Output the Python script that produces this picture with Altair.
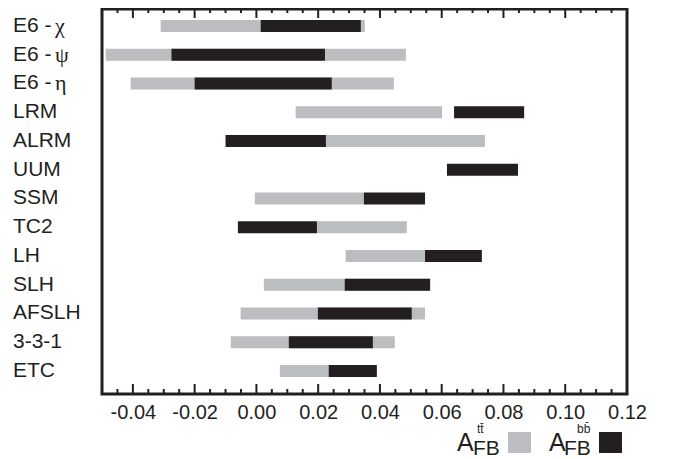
import altair as alt
import pandas as pd

models = ["E6 - χ", "E6 - ψ", "E6 - η", "LRM", "ALRM", "UUM", "SSM",
          "TC2", "LH", "SLH", "AFSLH", "3-3-1", "ETC"]
# label pieces: sans part and Greek (serif) part
label_main = ["E6 -", "E6 -", "E6 -", "LRM", "ALRM", "UUM", "SSM",
              "TC2", "LH", "SLH", "AFSLH", "3-3-1", "ETC"]
label_greek = ["χ", "ψ", "η", "", "", "", "", "", "", "", "", "", ""]

# A_FB^tt range (gray); None = not shown
tt_lo = [-0.0310, -0.0488, -0.0407, 0.0127, 0.0220, None, -0.0005,
         0.0196, 0.0289, 0.0024, -0.0051, -0.0083, 0.0076]
tt_hi = [0.0351, 0.0484, 0.0445, 0.0601, 0.0740, None, 0.0348,
         0.0487, 0.0546, 0.0564, 0.0546, 0.0448, 0.0234]
# A_FB^bb range (black)
bb_lo = [0.0014, -0.0275, -0.0200, 0.0640, -0.0100, 0.0617, 0.0348,
         -0.0060, 0.0546, 0.0286, 0.0199, 0.0105, 0.0234]
bb_hi = [0.0338, 0.0222, 0.0244, 0.0867, 0.0225, 0.0847, 0.0546,
         0.0196, 0.0730, 0.0562, 0.0503, 0.0377, 0.0390]

major_ticks = [-0.04, -0.02, 0.0, 0.02, 0.04, 0.06, 0.08, 0.10, 0.12]
minor_ticks = [-0.045, -0.035, -0.03, -0.025, -0.015, -0.01, -0.005,
               0.005, 0.01, 0.015, 0.025, 0.03, 0.035, 0.045, 0.05, 0.055,
               0.065, 0.07, 0.075, 0.085, 0.09, 0.095, 0.105, 0.11, 0.115]

GRAY = "#bcbdc1"
BLACK = "#231f20"
FONT = "Liberation Sans"
SERIF = "Liberation Serif"
H = 385

gray_df = pd.DataFrame({"model": models, "lo": tt_lo, "hi": tt_hi}).dropna()
black_df = pd.DataFrame({"model": models, "lo": bb_lo, "hi": bb_hi})
label_df = pd.DataFrame({"model": models, "main": label_main, "greek": label_greek})

xscale = alt.Scale(domain=[-0.05, 0.12], nice=False, zero=False)
yscale = alt.Scale(domain=models, paddingInner=0.583, paddingOuter=0.487, align=0.39)

label_expr = "replace(format(datum.value, '.2f'), '\u2212', '-')"
xaxis = alt.Axis(orient="bottom", values=major_ticks, labelExpr=label_expr,
                 ticks=False, tickSize=0, domain=False, grid=False,
                 labelFont=FONT, labelFontSize=20, labelColor=BLACK,
                 labelPadding=8, title=None, labelFlush=False)

ynoaxis = alt.Y("model:N", sort=None, scale=yscale, axis=None)

gray_bars = alt.Chart(gray_df).mark_bar(color=GRAY).encode(
    x=alt.X("lo:Q", scale=xscale, axis=xaxis),
    x2="hi:Q",
    y=ynoaxis,
)
black_bars = alt.Chart(black_df).mark_bar(color=BLACK).encode(
    x=alt.X("lo:Q", scale=xscale, axis=xaxis),
    x2="hi:Q",
    y=ynoaxis,
)

ylab_main = alt.Chart(label_df).mark_text(
    align="left", baseline="middle", fontSize=21, font=FONT, color=BLACK
).encode(x=alt.value(-89), y=ynoaxis, text="main:N")
ylab_greek = alt.Chart(label_df).mark_text(
    align="left", baseline="middle", fontSize=22, font=SERIF, color=BLACK
).encode(x=alt.value(-47), y=ynoaxis, text="greek:N")


# inward tick marks on the bottom and top frame edges
def ticks(vals, y1, y2):
    return alt.Chart(alt.Data(values=[{"lo": t} for t in vals])).mark_rule(
        color=BLACK, strokeWidth=2
    ).encode(
        x=alt.X("lo:Q", scale=xscale, axis=xaxis),
        y=alt.value(y1), y2=alt.value(y2),
    )


tick_layers = [
    ticks(major_ticks, H - 10, H), ticks(minor_ticks, H - 5, H),
    ticks(major_ticks, 0, 9), ticks(minor_ticks, 0, 4),
]

one = alt.Data(values=[{"k": 1}])


def txt(s, x, y, size, font=FONT):
    return alt.Chart(one).mark_text(align="left", baseline="alphabetic",
                                    fontSize=size, font=font, color=BLACK).encode(
        x=alt.value(x), y=alt.value(y), text=alt.value(s))


def box(x, color):
    return alt.Chart(one).mark_rect(color=color).encode(
        x=alt.value(x), x2=alt.value(x + 23), y=alt.value(423), y2=alt.value(444))


legend = [
    txt("A", 355, 442, 25), txt("FB", 371, 446, 21), txt("tt\u0304", 375, 424, 12),
    box(406, GRAY),
    txt("A", 447, 442, 25), txt("FB", 462, 446, 21), txt("bb\u0304", 475, 424, 12),
    box(497, BLACK),
]

chart = alt.layer(
    gray_bars, black_bars, *tick_layers, ylab_main, ylab_greek, *legend
).properties(
    width=525, height=H,
    padding={"left": 5, "top": 0, "right": 0, "bottom": 0},
).configure_view(stroke=BLACK, strokeWidth=3).configure_axis(grid=False)

chart.save("out.html", embed_options={"renderer": "svg", "actions": False})
